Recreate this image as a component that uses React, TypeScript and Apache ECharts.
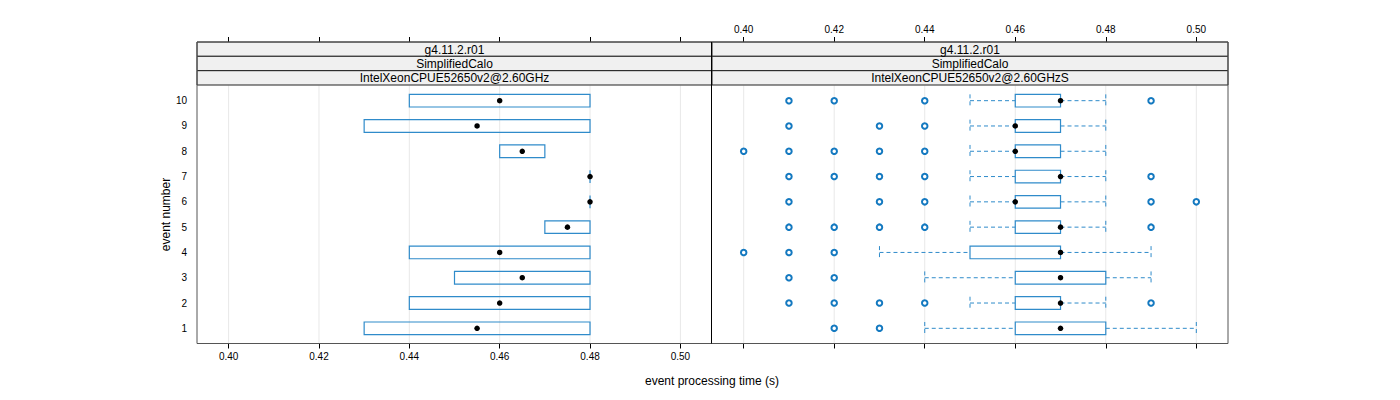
import React, { useEffect, useRef } from "react";
import * as echarts from "echarts";

const events = [1, 2, 3, 4, 5, 6, 7, 8, 9, 10];
const xTicks = [0.4, 0.42, 0.44, 0.46, 0.48, 0.5];
const stripLabels = ["g4.11.2.r01", "SimplifiedCalo"];
const panelNames = ["IntelXeonCPUE52650v2@2.60GHz", "IntelXeonCPUE52650v2@2.60GHzS"];

// left panel (events 1..10)
const leftLow = [0.43, 0.44, 0.45, 0.44, 0.47, 0.48, 0.48, 0.46, 0.43, 0.44];
const leftQ1 = [0.43, 0.44, 0.45, 0.44, 0.47, 0.48, 0.48, 0.46, 0.43, 0.44];
const leftMed = [0.455, 0.46, 0.465, 0.46, 0.475, 0.48, 0.48, 0.465, 0.455, 0.46];
const leftQ3 = [0.48, 0.48, 0.48, 0.48, 0.48, 0.48, 0.48, 0.47, 0.48, 0.48];
const leftHigh = [0.48, 0.48, 0.48, 0.48, 0.48, 0.48, 0.48, 0.47, 0.48, 0.48];
const leftOutliers: number[][] = [[], [], [], [], [], [], [], [], [], []];

// right panel (events 1..10)
const rightLow = [0.44, 0.45, 0.44, 0.43, 0.45, 0.45, 0.45, 0.45, 0.45, 0.45];
const rightQ1 = [0.46, 0.46, 0.46, 0.45, 0.46, 0.46, 0.46, 0.46, 0.46, 0.46];
const rightMed = [0.47, 0.47, 0.47, 0.47, 0.47, 0.46, 0.47, 0.46, 0.46, 0.47];
const rightQ3 = [0.48, 0.47, 0.48, 0.47, 0.47, 0.47, 0.47, 0.47, 0.47, 0.47];
const rightHigh = [0.5, 0.48, 0.49, 0.49, 0.48, 0.48, 0.48, 0.48, 0.48, 0.48];
const rightOutliers: number[][] = [
  [0.42, 0.43],
  [0.41, 0.42, 0.43, 0.44, 0.49],
  [0.41, 0.42],
  [0.4, 0.41, 0.42],
  [0.41, 0.42, 0.43, 0.44, 0.49],
  [0.41, 0.43, 0.44, 0.49, 0.5],
  [0.41, 0.42, 0.43, 0.44, 0.49],
  [0.4, 0.41, 0.42, 0.43, 0.44],
  [0.41, 0.43, 0.44],
  [0.41, 0.42, 0.44, 0.49],
];

const BLUE = "#2f8bca";
const DOT_BLUE = "#1479c0";
const FONT = "'Liberation Sans', Arial, Helvetica, sans-serif";
const XMIN = 0.393;
const XMAX = 0.507;
const YMIN = 0.4;
const YMAX = 10.6;

const G = { top: 85.5, height: 258, left0: 197, w0: 515, left1: 712, w1: 516 };

function renderBox(params: any, api: any) {
  const y = api.value(0);
  const lo = api.value(1), q1 = api.value(2), q3 = api.value(3), hi = api.value(4);
  const h = 0.25;
  const top = api.coord([q1, y + h])[1];
  const bot = api.coord([q1, y - h])[1];
  const yc = api.coord([q1, y])[1];
  const xLo = api.coord([lo, y])[0];
  const x1 = api.coord([q1, y])[0];
  const x3 = api.coord([q3, y])[0];
  const xHi = api.coord([hi, y])[0];
  const dash = { stroke: BLUE, lineWidth: 1, lineDash: [4, 3], fill: "none" };
  const children: any[] = [];
  if (lo < q1) {
    children.push({ type: "line", shape: { x1: xLo, y1: yc, x2: x1, y2: yc }, style: dash });
    children.push({ type: "line", shape: { x1: xLo, y1: top, x2: xLo, y2: bot }, style: dash });
  }
  if (hi > q3) {
    children.push({ type: "line", shape: { x1: x3, y1: yc, x2: xHi, y2: yc }, style: dash });
    children.push({ type: "line", shape: { x1: xHi, y1: top, x2: xHi, y2: bot }, style: dash });
  }
  children.push({
    type: "polygon",
    shape: { points: [[x1, top], [x3, top], [x3, bot], [x1, bot]] },
    style: { fill: "none", stroke: BLUE, lineWidth: 1.2 },
  });
  return { type: "group", children };
}

function renderGridLine(params: any, api: any) {
  const v = api.value(0);
  const p1 = api.coord([v, YMIN]);
  const p2 = api.coord([v, YMAX]);
  return {
    type: "line",
    shape: { x1: p1[0], y1: p1[1], x2: p2[0], y2: p2[1] },
    style: { stroke: "#e8e8e8", lineWidth: 1 },
  };
}

function boxData(lo: number[], q1: number[], q3: number[], hi: number[]) {
  return events.map((e, i) => [e, lo[i], q1[i], q3[i], hi[i]]);
}
function medData(med: number[]) {
  return events.map((e, i) => [med[i], e]);
}
function outData(out: number[][]) {
  const r: number[][] = [];
  out.forEach((arr, i) => arr.forEach((v) => r.push([v, events[i]])));
  return r;
}

function xAxisCfg(gridIndex: number, position: string, showLabel: boolean, offset: number) {
  return {
    type: "value",
    gridIndex,
    position,
    offset,
    min: XMIN,
    max: XMAX,
    axisLine: { show: false },
    splitLine: { show: false },
    axisTick: {
      show: true,
      customValues: xTicks,
      length: 5,
      lineStyle: { color: "#000", width: 1 },
    },
    axisLabel: {
      show: showLabel,
      customValues: xTicks,
      formatter: (v: number) => v.toFixed(2),
      color: "#000",
      fontSize: 10,
      fontFamily: FONT,
      margin: 8,
    },
  };
}

export default function App() {
  const ref = useRef<HTMLDivElement>(null);
  useEffect(() => {
    if (!ref.current) return;
    const chart = echarts.init(ref.current, undefined, { renderer: "svg" });
    const graphics: any[] = [];
    const panels = [
      { x: G.left0, w: G.w0, name: panelNames[0] },
      { x: G.left1, w: G.w1, name: panelNames[1] },
    ];
    const stripTops = [42, 56.3, 70.7];
    const stripH = 14.3;
    panels.forEach((p) => {
      const labels = [stripLabels[0], stripLabels[1], p.name];
      labels.forEach((t, k) => {
        graphics.push({
          type: "rect",
          shape: { x: p.x, y: stripTops[k], width: p.w, height: stripH },
          style: { fill: "#f0f0f0", stroke: "#222", lineWidth: 1 },
          z: 10,
        });
        graphics.push({
          type: "text",
          x: p.x + p.w / 2,
          y: stripTops[k] + stripH / 2 + 0.5,
          style: {
            text: t,
            fill: "#000",
            font: "12px " + FONT,
            textAlign: "center",
            textVerticalAlign: "middle",
          },
          z: 11,
        });
      });
    });
    graphics.push({
      type: "rect",
      shape: { x: 197, y: 42, width: 1031, height: 301.5 },
      style: { fill: "none", stroke: "#555", lineWidth: 1 },
      z: 12,
    });
    graphics.push({
      type: "line",
      shape: { x1: 711.5, y1: 42, x2: 711.5, y2: 343.5 },
      style: { stroke: "#000", lineWidth: 1 },
      z: 12,
    });
    graphics.push({
      type: "text",
      x: 712,
      y: 381,
      style: {
        text: "event processing time (s)",
        fill: "#000",
        font: "12px " + FONT,
        textAlign: "center",
        textVerticalAlign: "middle",
      },
    });

    const scatterBase = (xi: number, yi: number) => ({
      type: "scatter",
      xAxisIndex: xi,
      yAxisIndex: yi,
    });

    const option: any = {
      animation: false,
      backgroundColor: "#fff",
      textStyle: { fontFamily: FONT },
      grid: [
        { left: G.left0, top: G.top, width: G.w0, height: G.height },
        { left: G.left1, top: G.top, width: G.w1, height: G.height },
      ],
      xAxis: [
        xAxisCfg(0, "bottom", true, 0),
        xAxisCfg(0, "top", false, 43.5),
        xAxisCfg(1, "bottom", false, 0),
        xAxisCfg(1, "top", true, 43.5),
      ],
      yAxis: [
        {
          type: "value",
          gridIndex: 0,
          min: YMIN,
          max: YMAX,
          axisLine: { show: false },
          axisTick: { show: false },
          splitLine: { show: false },
          axisLabel: {
            customValues: events,
            color: "#000",
            fontSize: 10,
            fontFamily: FONT,
            margin: 10,
          },
          name: "event number",
          nameLocation: "middle",
          nameGap: 25,
          nameTextStyle: { color: "#000", fontSize: 12, fontFamily: FONT },
        },
        {
          type: "value",
          gridIndex: 1,
          min: YMIN,
          max: YMAX,
          axisLine: { show: false },
          axisTick: { show: false },
          splitLine: { show: false },
          axisLabel: { show: false },
        },
      ],
      series: [
        {
          type: "custom",
          xAxisIndex: 0,
          yAxisIndex: 0,
          renderItem: renderGridLine,
          data: xTicks.map((v) => [v, YMIN]),
          encode: { x: 0, y: 1 },
          z: 1,
          silent: true,
        },
        {
          type: "custom",
          xAxisIndex: 2,
          yAxisIndex: 1,
          renderItem: renderGridLine,
          data: xTicks.map((v) => [v, YMIN]),
          encode: { x: 0, y: 1 },
          z: 1,
          silent: true,
        },
        {
          type: "custom",
          xAxisIndex: 0,
          yAxisIndex: 0,
          renderItem: renderBox,
          data: boxData(leftLow, leftQ1, leftQ3, leftHigh),
          encode: { x: [1, 2, 3, 4], y: 0 },
          z: 2,
        },
        {
          type: "custom",
          xAxisIndex: 2,
          yAxisIndex: 1,
          renderItem: renderBox,
          data: boxData(rightLow, rightQ1, rightQ3, rightHigh),
          encode: { x: [1, 2, 3, 4], y: 0 },
          z: 2,
        },
        {
          ...scatterBase(0, 0),
          symbol: "emptyCircle",
          symbolSize: 5.5,
          itemStyle: { color: DOT_BLUE, borderColor: DOT_BLUE, borderWidth: 1.3, opacity: 1 },
          data: outData(leftOutliers),
          z: 3,
        },
        {
          ...scatterBase(2, 1),
          symbol: "emptyCircle",
          symbolSize: 5.5,
          itemStyle: { color: DOT_BLUE, borderColor: DOT_BLUE, borderWidth: 1.3, opacity: 1 },
          data: outData(rightOutliers),
          z: 3,
        },
        {
          ...scatterBase(0, 0),
          symbol: "circle",
          symbolSize: 5.5,
          itemStyle: { color: "#000", opacity: 1 },
          data: medData(leftMed),
          z: 4,
        },
        {
          ...scatterBase(2, 1),
          symbol: "circle",
          symbolSize: 5.5,
          itemStyle: { color: "#000", opacity: 1 },
          data: medData(rightMed),
          z: 4,
        },
      ],
      graphic: graphics,
    };
    chart.setOption(option);
    return () => chart.dispose();
  }, []);
  return (
    <div
      ref={ref}
      style={{ position: "absolute", left: 0, top: 0, width: 1400, height: 400 }}
    />
  );
}
